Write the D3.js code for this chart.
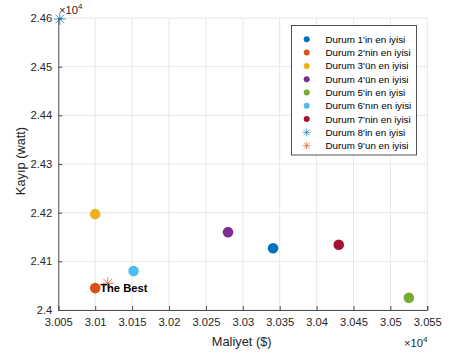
<!DOCTYPE html>
<html>
<head>
<meta charset="utf-8">
<script src="https://cdn.jsdelivr.net/npm/d3@7"></script>
<style>
  html, body { margin: 0; padding: 0; background: #fff; }
  svg { display: block; font-family: "Liberation Sans", Arial, Helvetica, sans-serif; }
</style>
</head>
<body>
<svg id="chart" width="455" height="358"></svg>
<script>
// Best solution of each case: cost (Maliyet, $) and loss (Kayıp, watt)
const seriesNames = [
  "Durum 1'in en iyisi", "Durum 2'nin en iyisi", "Durum 3'ün en iyisi",
  "Durum 4'ün en iyisi", "Durum 5'in en iyisi", "Durum 6'nın en iyisi",
  "Durum 7'nin en iyisi", "Durum 8'in en iyisi", "Durum 9'un en iyisi"
];
const costValues = [30341, 30100, 30100, 30280, 30525, 30152, 30430, 30052, 30117];
const lossValues = [24127, 24045, 24197, 24160, 24025, 24080, 24134, 24598, 24055];
const markerKinds = ["dot", "dot", "dot", "dot", "dot", "dot", "dot", "star", "star"];
const seriesColors = ["#0072bd", "#d95319", "#edb120", "#7e2f8e", "#77ac30", "#4dbeee", "#a2142f", "#0072bd", "#d95319"];

const xTicks = [30050, 30100, 30150, 30200, 30250, 30300, 30350, 30400, 30450, 30500, 30550];
const yTicks = [24000, 24100, 24200, 24300, 24400, 24500, 24600];
const xDomain = [30050, 30550];
const yDomain = [24000, 24600];
const bestLabel = "The Best";
const bestIndex = 1;

const svg = d3.select("#chart");
const plot = { left: 58.3, right: 427.3, top: 18, bottom: 310 };

const x = d3.scaleLinear().domain(xDomain).range([plot.left, plot.right]);
const y = d3.scaleLinear().domain(yDomain).range([plot.bottom, plot.top]);

// grid
const grid = svg.append("g").attr("stroke", "#e6e6e6").attr("stroke-width", 1);
grid.selectAll("line.gx").data(xTicks).join("line")
  .attr("x1", d => x(d)).attr("x2", d => x(d))
  .attr("y1", plot.top).attr("y2", plot.bottom);
grid.selectAll("line.gy").data(yTicks).join("line")
  .attr("x1", plot.left).attr("x2", plot.right)
  .attr("y1", d => y(d)).attr("y2", d => y(d));

// axes
const fmt = d => d3.format("")(+(d / 10000).toFixed(3));
const xAxis = d3.axisBottom(x).tickValues(xTicks).tickSize(-4).tickPadding(8).tickFormat(fmt);
const yAxis = d3.axisLeft(y).tickValues(yTicks).tickSize(-4).tickPadding(6).tickFormat(fmt);

const gx = svg.append("g").attr("transform", `translate(0,${plot.bottom})`).call(xAxis);
const gy = svg.append("g").attr("transform", `translate(${plot.left},0)`).call(yAxis);
[gx, gy].forEach(g => {
  g.select(".domain").attr("stroke", "#4d4d4d").attr("stroke-width", 1);
  g.selectAll(".tick line").attr("stroke", "#4d4d4d");
  g.selectAll(".tick text").attr("fill", "#262626").attr("font-size", 11.2)
    .attr("font-family", "Liberation Sans, Arial, sans-serif");
});

// axis titles
svg.append("text").attr("x", 241.7).attr("y", 346)
  .attr("text-anchor", "middle").attr("font-size", 12.8).attr("fill", "#262626")
  .text("Maliyet ($)");
svg.append("text").attr("transform", `translate(25,161) rotate(-90)`)
  .attr("text-anchor", "middle").attr("font-size", 12.8).attr("fill", "#262626")
  .text("Kayıp (watt)");

// exponent labels
function exponent(px, py) {
  const t = svg.append("text").attr("x", px).attr("y", py).attr("font-size", 11.2).attr("fill", "#262626");
  t.append("tspan").text("×10");
  t.append("tspan").attr("dy", -5).attr("font-size", 8).text("4");
}
exponent(59, 14);
exponent(404, 346.5);

// asterisk marker path
function starPath(r) {
  let p = "";
  for (let k = 0; k < 4; k++) {
    const a = k * Math.PI / 4;
    const dx = r * Math.cos(a), dy = r * Math.sin(a);
    p += `M${-dx},${-dy}L${dx},${dy}`;
  }
  return p;
}

// markers
const pts = seriesNames.map((n, i) => ({ name: n, cx: costValues[i], cy: lossValues[i], kind: markerKinds[i], color: seriesColors[i] }));
const marks = svg.append("g");
pts.forEach(p => {
  if (p.kind === "dot") {
    marks.append("circle").attr("cx", x(p.cx)).attr("cy", y(p.cy)).attr("r", 5.3).attr("fill", p.color);
  } else {
    marks.append("path").attr("transform", `translate(${x(p.cx)},${y(p.cy)})`)
      .attr("d", starPath(6)).attr("stroke", p.color).attr("stroke-width", 1).attr("fill", "none")
      .attr("opacity", 0.75);
  }
});

// annotation of the best point
svg.append("text").attr("x", x(costValues[bestIndex]) + 5).attr("y", y(lossValues[bestIndex]) + 4)
  .attr("font-size", 11.2).attr("font-weight", "bold").attr("fill", "#000").text(bestLabel);

// legend
const lg = svg.append("g");
lg.append("rect").attr("x", 291.5).attr("y", 25.5).attr("width", 125).attr("height", 129.5)
  .attr("fill", "#fff").attr("stroke", "#262626").attr("stroke-width", 0.8);
pts.forEach((p, i) => {
  const ly = 39.3 + i * 13.3;
  if (p.kind === "dot") {
    lg.append("circle").attr("cx", 306.7).attr("cy", ly).attr("r", 3).attr("fill", p.color);
  } else {
    lg.append("path").attr("transform", `translate(306.7,${ly})`).attr("d", starPath(4))
      .attr("stroke", p.color).attr("stroke-width", 0.8).attr("fill", "none").attr("opacity", 0.75);
  }
  lg.append("text").attr("x", 325.5).attr("y", ly + 3.4).attr("font-size", 9.8).attr("fill", "#000").text(p.name);
});
</script>
</body>
</html>
